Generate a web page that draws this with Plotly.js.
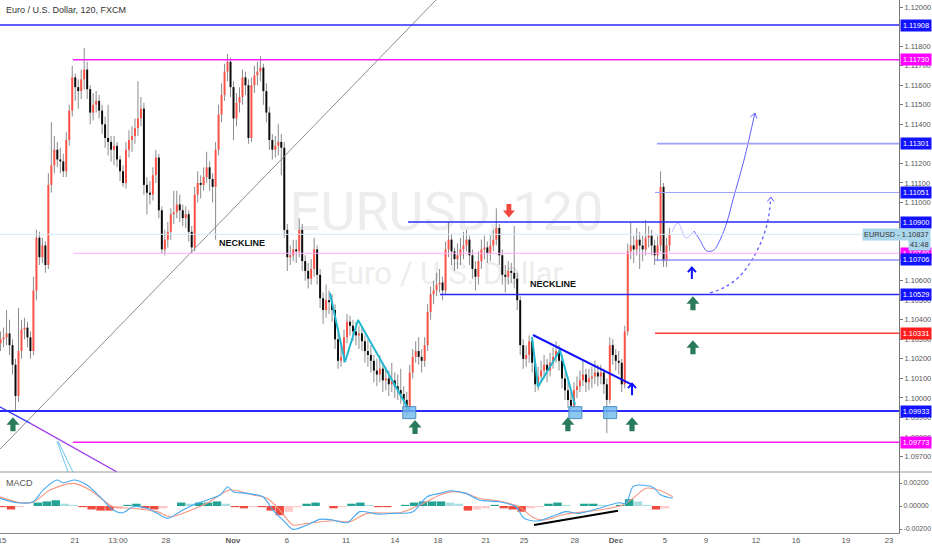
<!DOCTYPE html>
<html><head><meta charset="utf-8">
<script src="https://cdn.plot.ly/plotly-3.0.1.min.js"></script>
<style>html,body{margin:0;padding:0;background:#fff}#chart{width:932px;height:550px}</style>
</head><body><div id="chart"></div>
<script>
// ---------------- DATA (EUR/USD, FXCM) ----------------
const candleOpen = [
1.1028,1.1030,1.1031,1.1033,1.1027,1.1017,1.1001,1.1024,1.1035,1.1036,
1.1031,1.1024,1.1055,1.1082,1.1072,1.1078,1.1068,1.1109,1.1119,1.1127,
1.1122,1.1121,1.1116,1.1132,1.1147,1.1164,1.1159,1.1157,1.1163,1.1168,
1.1158,1.1146,1.1150,1.1152,1.1147,1.1140,1.1133,1.1131,1.1127,1.1129,
1.1122,1.1116,1.1110,1.1127,1.1132,1.1134,1.1138,1.1143,1.1148,1.1109,
1.1105,1.1104,1.1114,1.1123,1.1096,1.1076,1.1081,1.1085,1.1094,1.1095,
1.1099,1.1096,1.1092,1.1094,1.1085,1.1077,1.1104,1.1110,1.1109,1.1113,
1.1118,1.1112,1.1108,1.1127,1.1145,1.1155,1.1167,1.1172,1.1159,1.1143,
1.1151,1.1154,1.1164,1.1160,1.1133,1.1160,1.1165,1.1167,1.1169,1.1157,
1.1146,1.1132,1.1127,1.1129,1.1131,1.1128,1.1086,1.1072,1.1073,1.1076,
1.1075,1.1086,1.1070,1.1065,1.1061,1.1066,1.1076,1.1063,1.1051,1.1045,
1.1050,1.1049,1.1045,1.1030,1.1019,1.1021,1.1031,1.1039,1.1037,1.1034,
1.1032,1.1033,1.1029,1.1024,1.1022,1.1019,1.1014,1.1012,1.1015,1.1009,
1.1010,1.1007,1.1009,1.1006,1.1004,1.1002,1.0999,1.0995,1.1013,1.1021,
1.1024,1.1021,1.1019,1.1027,1.1044,1.1053,1.1055,1.1058,1.1059,1.1055,
1.1076,1.1081,1.1075,1.1071,1.1073,1.1076,1.1078,1.1081,1.1073,1.1066,
1.1062,1.1070,1.1076,1.1077,1.1074,1.1078,1.1081,1.1087,1.1073,1.1063,
1.1062,1.1065,1.1064,1.1061,1.1050,1.1027,1.1020,1.1022,1.1029,1.1018,
1.1007,1.1011,1.1014,1.1017,1.1014,1.1018,1.1021,1.1024,1.1019,1.1010,
1.1004,1.0999,1.0996,1.1004,1.1006,1.1009,1.1012,1.1008,1.1010,1.1011,
1.1013,1.1011,1.1013,1.1007,1.0999,1.1027,1.1022,1.1019,1.1018,1.1007,
1.1034,1.1075,1.1078,1.1076,1.1081,1.1078,1.1076,1.1082,1.1083,1.1078,
1.1073,1.1078,1.1108,1.1070,1.1078];
const candleHigh = [
1.1034,1.1036,1.1045,1.1040,1.1030,1.1020,1.1046,1.1040,1.1041,1.1039,
1.1034,1.1062,1.1086,1.1085,1.1082,1.1080,1.1115,1.1141,1.1134,1.1131,
1.1128,1.1125,1.1136,1.1150,1.1170,1.1166,1.1163,1.1168,1.1179,1.1172,
1.1160,1.1156,1.1157,1.1155,1.1150,1.1144,1.1150,1.1134,1.1134,1.1131,
1.1124,1.1119,1.1131,1.1137,1.1139,1.1143,1.1162,1.1154,1.1151,1.1113,
1.1111,1.1118,1.1127,1.1125,1.1098,1.1086,1.1090,1.1097,1.1106,1.1106,
1.1104,1.1099,1.1098,1.1096,1.1088,1.1108,1.1116,1.1114,1.1118,1.1126,
1.1121,1.1115,1.1131,1.1150,1.1161,1.1171,1.1176,1.1174,1.1162,1.1156,
1.1159,1.1168,1.1167,1.1163,1.1164,1.1170,1.1172,1.1175,1.1171,1.1161,
1.1149,1.1135,1.1134,1.1140,1.1135,1.1131,1.1089,1.1078,1.1081,1.1081,
1.1092,1.1089,1.1073,1.1069,1.1071,1.1082,1.1078,1.1066,1.1054,1.1058,
1.1055,1.1053,1.1048,1.1033,1.1027,1.1035,1.1043,1.1042,1.1040,1.1039,
1.1037,1.1036,1.1032,1.1030,1.1027,1.1022,1.1020,1.1022,1.1018,1.1016,
1.1014,1.1018,1.1013,1.1012,1.1015,1.1006,1.1003,1.1017,1.1025,1.1029,
1.1031,1.1025,1.1031,1.1048,1.1057,1.1060,1.1064,1.1066,1.1062,1.1080,
1.1090,1.1084,1.1077,1.1079,1.1082,1.1085,1.1086,1.1083,1.1076,1.1070,
1.1075,1.1081,1.1083,1.1080,1.1083,1.1086,1.1097,1.1089,1.1076,1.1068,
1.1070,1.1069,1.1088,1.1064,1.1052,1.1030,1.1027,1.1032,1.1031,1.1020,
1.1016,1.1019,1.1022,1.1020,1.1023,1.1026,1.1029,1.1027,1.1022,1.1013,
1.1008,1.1003,1.1008,1.1011,1.1014,1.1019,1.1015,1.1015,1.1016,1.1019,
1.1017,1.1017,1.1015,1.1010,1.1031,1.1030,1.1025,1.1024,1.1020,1.1037,
1.1079,1.1090,1.1083,1.1087,1.1085,1.1083,1.1091,1.1088,1.1086,1.1081,
1.1083,1.1116,1.1110,1.1082,1.1087];
const candleLow = [
1.1024,1.1026,1.1027,1.1022,1.1012,1.0994,1.0998,1.1020,1.1030,1.1026,
1.1020,1.1022,1.1050,1.1068,1.1069,1.1064,1.1066,1.1105,1.1115,1.1118,
1.1115,1.1113,1.1113,1.1129,1.1144,1.1152,1.1148,1.1153,1.1158,1.1153,
1.1140,1.1142,1.1146,1.1143,1.1135,1.1128,1.1124,1.1121,1.1119,1.1118,
1.1111,1.1108,1.1107,1.1123,1.1126,1.1130,1.1134,1.1139,1.1104,1.1094,
1.1099,1.1101,1.1110,1.1092,1.1074,1.1073,1.1077,1.1081,1.1089,1.1092,
1.1090,1.1088,1.1087,1.1080,1.1074,1.1075,1.1100,1.1102,1.1106,1.1110,
1.1106,1.1100,1.1081,1.1124,1.1141,1.1152,1.1162,1.1154,1.1132,1.1139,
1.1146,1.1150,1.1155,1.1130,1.1131,1.1156,1.1160,1.1162,1.1150,1.1141,
1.1127,1.1122,1.1123,1.1124,1.1114,1.1082,1.1065,1.1068,1.1070,1.1069,
1.1072,1.1065,1.1060,1.1056,1.1058,1.1062,1.1058,1.1046,1.1038,1.1041,
1.1043,1.1039,1.1025,1.1015,1.1016,1.1018,1.1028,1.1032,1.1029,1.1027,
1.1025,1.1024,1.1018,1.1016,1.1013,1.1008,1.1006,1.1008,1.1003,1.1004,
1.1001,1.1003,1.1000,1.0999,1.0997,1.0994,1.0991,1.0993,1.1010,1.1018,
1.1017,1.1013,1.1016,1.1024,1.1040,1.1048,1.1052,1.1054,1.1050,1.1053,
1.1072,1.1068,1.1065,1.1066,1.1068,1.1071,1.1075,1.1068,1.1061,1.1055,
1.1058,1.1066,1.1071,1.1069,1.1070,1.1075,1.1078,1.1068,1.1058,1.1054,
1.1058,1.1059,1.1056,1.1045,1.1022,1.1015,1.1016,1.1018,1.1013,1.1003,
1.1004,1.1008,1.1010,1.1008,1.1011,1.1015,1.1018,1.1014,1.1005,1.0999,
1.0995,1.0994,1.0995,1.1000,1.1003,1.1006,1.1003,1.1004,1.1005,1.1007,
1.1006,1.1007,1.1002,1.0982,1.0997,1.1017,1.1014,1.1012,1.1003,1.1005,
1.1032,1.1071,1.1069,1.1073,1.1066,1.1070,1.1073,1.1077,1.1073,1.1068,
1.1070,1.1075,1.1067,1.1067,1.1075];
const candleClose = [
1.1030,1.1031,1.1033,1.1027,1.1017,1.1001,1.1024,1.1035,1.1036,1.1031,
1.1024,1.1055,1.1082,1.1072,1.1078,1.1068,1.1109,1.1119,1.1127,1.1122,
1.1121,1.1116,1.1132,1.1147,1.1164,1.1159,1.1157,1.1163,1.1168,1.1158,
1.1146,1.1150,1.1152,1.1147,1.1140,1.1133,1.1131,1.1127,1.1129,1.1122,
1.1116,1.1110,1.1127,1.1132,1.1134,1.1138,1.1143,1.1148,1.1109,1.1105,
1.1104,1.1114,1.1123,1.1096,1.1076,1.1081,1.1085,1.1094,1.1095,1.1099,
1.1096,1.1092,1.1094,1.1085,1.1077,1.1104,1.1110,1.1109,1.1113,1.1118,
1.1112,1.1108,1.1127,1.1145,1.1155,1.1167,1.1172,1.1159,1.1143,1.1151,
1.1154,1.1164,1.1160,1.1133,1.1160,1.1165,1.1167,1.1169,1.1157,1.1146,
1.1132,1.1127,1.1129,1.1131,1.1128,1.1086,1.1072,1.1073,1.1076,1.1075,
1.1086,1.1070,1.1065,1.1061,1.1066,1.1076,1.1063,1.1051,1.1045,1.1050,
1.1049,1.1045,1.1030,1.1019,1.1021,1.1031,1.1039,1.1037,1.1034,1.1032,
1.1033,1.1029,1.1024,1.1022,1.1019,1.1014,1.1012,1.1015,1.1009,1.1010,
1.1007,1.1009,1.1006,1.1004,1.1002,1.0999,1.0995,1.1013,1.1021,1.1024,
1.1021,1.1019,1.1027,1.1044,1.1053,1.1055,1.1058,1.1059,1.1055,1.1076,
1.1081,1.1075,1.1071,1.1073,1.1076,1.1078,1.1081,1.1073,1.1066,1.1062,
1.1070,1.1076,1.1077,1.1074,1.1078,1.1081,1.1087,1.1073,1.1063,1.1062,
1.1065,1.1064,1.1061,1.1050,1.1027,1.1020,1.1022,1.1029,1.1018,1.1007,
1.1011,1.1014,1.1017,1.1014,1.1018,1.1021,1.1024,1.1019,1.1010,1.1004,
1.0999,1.0996,1.1004,1.1006,1.1009,1.1012,1.1008,1.1010,1.1011,1.1013,
1.1011,1.1013,1.1007,1.0999,1.1027,1.1022,1.1019,1.1018,1.1007,1.1034,
1.1075,1.1078,1.1076,1.1081,1.1078,1.1076,1.1082,1.1083,1.1078,1.1073,
1.1078,1.1108,1.1070,1.1078,1.1084];

// MACD pane (x = trading-day index from Oct 15)
const macdDays = [-0.11,0.84,1.73,2.29,3.07,3.40,4.07,4.74,5.47,6.19,6.75,7.31,8.09,8.65,9.26,9.93,10.66,11.44,12.17,12.61,12.89,13.67,14.56,15.12,15.68,16.24,17.02,17.75,18.47,19.25,19.98,20.93,21.82,22.94,23.72,24.44,25.0,25.89,26.62,27.73,28.68,29.13,29.91,30.75,31.47,32.2,33.31,34.43,34.82,35.21,35.55,36.33,36.77,37.44];
const macdLine = [0.00067,0.00029,0.00037,0.00139,0.00226,0.00203,0.00226,0.00183,0.00081,-0.00035,-0.00058,-0.00006,-0.0002,-0.00064,-0.00107,-0.00049,0.00009,0.00052,0.00096,0.00168,0.00125,0.0011,0.00081,-0.00035,-0.00122,-0.00203,-0.00165,-0.00116,-0.00122,-0.00145,-0.00049,-0.0007,-0.00064,-0.00049,0.00081,0.0011,0.00133,0.0011,0.00052,0.00037,-0.00006,-0.00107,-0.0013,-0.00087,-0.00049,-0.00064,-0.0002,0.00029,0.00023,0.00168,0.00183,0.00163,0.00096,0.00067];
const signalDays = [-0.11,1.0,1.73,2.68,3.96,4.91,6.19,7.31,8.65,9.38,10.32,11.44,12.72,14.0,14.79,15.51,16.24,17.02,18.47,19.42,20.37,22.21,23.33,24.44,25.17,25.89,26.62,27.73,28.85,29.63,30.19,31.47,33.31,34.65,35.21,35.94,36.66,37.44];
const signalLine = [0.0008,0.00029,0.00033,0.00139,0.00197,0.0014,-0.00006,-0.0002,-0.00049,-0.00093,-0.00049,0.00023,0.00139,0.00096,0.00067,-0.00035,-0.00165,-0.00151,-0.00128,-0.00136,-0.00064,-0.00058,0.00009,0.00096,0.00125,0.0011,0.00067,0.00043,-0.00006,-0.00099,-0.00122,-0.0007,-0.00035,0.00009,0.00067,0.00154,0.00139,0.0008];
const histogram = [
-0.0001,-0.0003,-0.0001,0.0000,0.0003,0.0004,0.0005,0.0002,0.0001,-0.0001,
-0.0003,-0.0004,-0.0004,-0.0002,0.0001,0.0002,-0.0002,-0.0003,-0.0002,0.0000,
0.0003,0.0002,0.0003,0.0003,0.0004,0.0002,-0.0001,-0.0002,-0.0001,-0.0001,
-0.0004,-0.0008,-0.0005,-0.0001,0.0002,0.0003,0.0000,-0.0002,-0.0001,0.0002,
0.0003,0.0001,-0.0001,-0.0001,0.0000,0.0001,0.0003,0.0004,0.0004,0.0004,
0.0003,0.0002,-0.0004,-0.0003,-0.0002,0.0001,-0.0002,-0.0003,-0.0005,-0.0002,
-0.0001,0.0002,0.0003,0.0001,0.0000,0.0002,0.0002,0.0001,0.0000,0.0001,
0.0006,0.0004,0.0001,-0.0003,-0.0002];

// price levels drawn on the chart
const levelPrices = [1.11908,1.11730,1.11301,1.11051,1.10900,1.10740,1.10706,1.10529,1.10331,1.09933,1.09773];
const levelLabels = ['1.11908','1.11730','1.11301','1.11051','1.10900','1.10740','1.10706','1.10529','1.10331','1.09933','1.09773'];
const lastPrice = 1.10837;
const lastPriceLabel = 'EURUSD - 1.10837';
const countdownLabel = '41:48';

// price-axis tick labels (those not hidden under level labels)
const yTickPrices = [1.12000,1.11800,1.11700,1.11600,1.11500,1.11400,1.11200,1.11100,1.11000,1.10600,1.10500,1.10400,1.10300,1.10200,1.10100,1.10000,1.09900,1.09800,1.09700];
const yTickLabels = ['1.12000','1.11800','1.11700','1.11600','1.11500','1.11400','1.11200','1.11100','1.11000','1.10600','1.10500','1.10400','1.10300','1.10200','1.10100','1.10000','1.09900','1.09800','1.09700'];
const macdTickValues = [0.002,0,-0.002];
const macdTickLabels = ['0.00200','0.00000','-0.00200'];

// x-axis tick labels
const xTickDays = [0,4.07,6.47,9.15,12.89,15.9,19.2,21.93,24.33,27.0,29.13,31.97,34.26,37.0,39.29,42.08,44.31,47.1,49.5];
const xTickLabels = ['15','21','13:00','28','<b>Nov</b>','6','11','14','18','21','25','28','<b>Dec</b>','5','9','12','16','19','23'];

// ---------------- LAYOUT / STYLE ----------------
const BAR_START = -0.08, BAR_STEP = 1/6;
const XR = [-0.112, 50.06];
const YR = [1.09621, 1.12036];
const Y2R = [-0.002348, 0.002957];
const SPLIT = 0.1144;
const UP = '#ff5046', DOWN = '#0a0a0a', WICK = '#8a8a8a';
const FONT = 'Liberation Sans, Arial, sans-serif';
const AXF = 7.4;

const candleX = candleClose.map((_, i) => BAR_START + i * BAR_STEP);
const histX = histogram.map((_, i) => i * 0.5);

const traces = [];
traces.push({type:'bar', x:candleX, base:candleLow, y:candleHigh.map((h,i)=>h-candleLow[i]),
  width:0.055, marker:{color:WICK, line:{width:0}}, xaxis:'x', yaxis:'y', hoverinfo:'skip'});
traces.push({type:'bar', x:candleX, base:candleOpen, y:candleClose.map((c,i)=>c-candleOpen[i]),
  width:0.11, marker:{color:candleClose.map((c,i)=> c>=candleOpen[i]?UP:DOWN), line:{width:0}},
  xaxis:'x', yaxis:'y', hoverinfo:'skip'});
const histColors = histogram.map((v,i)=>{
  const prev = i>0 ? histogram[i-1] : v;
  if (v >= 0) return v >= prev ? '#22a396' : '#a9dde0';
  return v <= prev ? '#f04a3f' : '#ffc9c9';
});
traces.push({type:'bar', x:histX, y:histogram, width:0.47, marker:{color:histColors, line:{width:0}},
  xaxis:'x', yaxis:'y2', hoverinfo:'skip'});
traces.push({type:'scatter', mode:'lines', x:signalDays, y:signalLine, line:{color:'#f7977f', width:1.1, shape:'spline', smoothing:0.8}, xaxis:'x', yaxis:'y2'});
traces.push({type:'scatter', mode:'lines', x:macdDays, y:macdLine, line:{color:'#46aaf2', width:1.1, shape:'spline', smoothing:0.8}, xaxis:'x', yaxis:'y2'});

function seg(d, p, color, width, extra) {
  traces.push({type:'scatter', mode:'lines', x:d, y:p, line:Object.assign({color:color, width:width}, extra||{}), xaxis:'x', yaxis:'y', hoverinfo:'skip'});
}
seg([-0.11,24.22],[1.09738,1.12036],'#8c8c8c',1);
seg([-0.2,1.56],[1.09958,1.09871],'#3a3aff',1.3);
seg([1.56,6.42],[1.09871,1.09621],'#a040f0',1.3);
seg([3.07,3.68],[1.09779,1.09621],'#6cc4f0',1);
seg([3.125,3.96],[1.09779,1.09621],'#6cc4f0',1);
seg([18.30,19.14,19.87,22.71],[1.10537,1.10184,1.10399,1.09938],'#22b8d0',2);
seg([29.58,29.91,31.14,31.98],[1.10311,1.10056,1.10245,1.09964],'#22b8d0',2);
seg([29.63,35.21],[1.10322,1.10066],'#1010ff',2);
seg([37.39,37.72,38.17,38.62],[1.10849,1.10895,1.10818,1.10854],'#bdbdff',1,{shape:'spline'});
seg([38.62,38.95,39.34,39.73,40.07,40.46,40.79,41.41,42.02],[1.10854,1.10808,1.10752,1.10757,1.10808,1.10900,1.11013,1.11217,1.11458],'#6060ff',1,{shape:'spline'});
seg([39.51,40.35,41.18,41.85,42.41,42.75,42.91],[1.10537,1.10567,1.10624,1.10706,1.10808,1.10910,1.11028],'#6060ff',1.3,{shape:'spline', dash:'dot'});
traces.push({type:'scatter', mode:'lines', x:[29.69,34.38], y:[-0.00165,-0.00041], line:{color:'#000', width:2}, xaxis:'x', yaxis:'y2'});

const levelStyle = [
 {start:-0.2, color:'#2a2aff', width:1.6, bg:'#1212ff'},
 {start:3.96, color:'#ff1aff', width:1.6, bg:'#ff00ff'},
 {start:36.55, color:'#a0a0ff', width:1.6, bg:'#1212ff'},
 {start:36.44, color:'#a0a0ff', width:1.2, bg:'#1212ff'},
 {start:22.66, color:'#2a2aff', width:1.6, bg:'#1212ff'},
 {start:3.96, color:'#ffadff', width:1, bg:'#ff00ff'},
 {start:36.44, color:'#9090ff', width:1.6, bg:'#1212ff'},
 {start:24.44, color:'#2a2aff', width:1.6, bg:'#1212ff'},
 {start:36.44, color:'#ff3b3b', width:1.6, bg:'#ff1e1e'},
 {start:-0.2, color:'#2a2aff', width:2, bg:'#1212ff'},
 {start:3.96, color:'#ff1aff', width:1.6, bg:'#ff00ff'}
];

const shapes = [];
const annotations = [];
const WM = 'Liberation Sans Narrow, Roboto, Liberation Sans, sans-serif';
shapes.push({type:'rect', xref:'x', yref:'y', x0:15, x1:34.6, y0:1.1085, y1:1.1110, layer:'below', line:{width:0}, fillcolor:'rgba(0,0,0,0)',
  label:{text:'EURUSD, 120', textposition:'middle center', font:{family:WM, size:54, color:'#ededed'}}});
shapes.push({type:'rect', xref:'x', yref:'y', x0:15, x1:34.6, y0:1.1058, y1:1.1071, layer:'below', line:{width:0}, fillcolor:'rgba(0,0,0,0)',
  label:{text:'Euro / U.S. Dollar', textposition:'middle center', font:{family:WM, size:31, color:'#ededed'}}});
shapes.push({type:'line', xref:'x', yref:'y', x0:XR[0], x1:XR[1], y0:lastPrice, y1:lastPrice, line:{color:'#d3eaf7', width:1}});
levelPrices.forEach((p,i)=>{
  const s = levelStyle[i];
  shapes.push({type:'line', xref:'x', yref:'y', x0:s.start, x1:XR[1], y0:p, y1:p, line:{color:s.color, width:s.width}});
  annotations.push({xref:'paper', yref:'y', x:1, y:p, xanchor:'left', xshift:1, text:levelLabels[i], showarrow:false,
    bgcolor:s.bg, font:{family:FONT, size:AXF, color:'#fff'}, borderpad:1, width:28});
});
annotations.push({xref:'paper', yref:'y', x:1, y:lastPrice, xanchor:'right', xshift:32, text:lastPriceLabel, showarrow:false,
  bgcolor:'#aad6ec', font:{family:FONT, size:AXF, color:'#333'}, borderpad:1});
annotations.push({xref:'paper', yref:'y', x:1, y:1.10787, xanchor:'right', xshift:32, text:countdownLabel, showarrow:false,
  bgcolor:'#aad6ec', font:{family:FONT, size:AXF, color:'#333'}, borderpad:1});

shapes.push({type:'line', xref:'paper', yref:'paper', x0:0, x1:1.04, y0:SPLIT, y1:SPLIT, line:{color:'#9a9a9a', width:1.2}});

[[22.73,1.09925],[32.0,1.09925],[33.94,1.09925]].forEach(a=>{
  shapes.push({type:'rect', xref:'x', yref:'y', xsizemode:'pixel', ysizemode:'pixel', xanchor:a[0], yanchor:a[1],
    x0:-6.5, x1:6.5, y0:-6, y1:6, fillcolor:'rgba(110,185,235,0.8)', line:{color:'#4f8fc4', width:1}});
});
const greenUp = 'M -2.6 -7 L 2.6 -7 L 2.6 -0.5 L 6.5 -0.5 L 0 7 L -6.5 -0.5 L -2.6 -0.5 Z';
[[0.61,1.09866],[23.05,1.09851],[31.58,1.09866],[35.16,1.09866],[38.56,1.10485],[38.56,1.10260]].forEach(a=>{
  shapes.push({type:'path', xref:'x', yref:'y', xsizemode:'pixel', ysizemode:'pixel', xanchor:a[0], yanchor:a[1], path:greenUp,
    fillcolor:'#2a7a5c', line:{width:0}});
});
shapes.push({type:'path', xref:'x', yref:'y', xsizemode:'pixel', ysizemode:'pixel', xanchor:28.29, yanchor:1.10956,
  path:'M -2.4 7 L 2.4 7 L 2.4 0.5 L 6 0.5 L 0 -6.5 L -6 0.5 L -2.4 0.5 Z', fillcolor:'#f0463c', line:{width:0}});
[[38.50,1.10639],[35.16,1.10045]].forEach(a=>{
  shapes.push({type:'path', xref:'x', yref:'y', xsizemode:'pixel', ysizemode:'pixel', xanchor:a[0], yanchor:a[1],
    path:'M 0 -6 L 0 5 M -4 1 L 0 5.5 L 4 1', line:{color:'#1010ff', width:2}});
});
shapes.push({type:'path', xref:'x', yref:'y', xsizemode:'pixel', ysizemode:'pixel', xanchor:42.02, yanchor:1.11458,
  path:'M -4.5 -4 L 0 0 L 2 -5.5', line:{color:'#6060ff', width:1}});
shapes.push({type:'path', xref:'x', yref:'y', xsizemode:'pixel', ysizemode:'pixel', xanchor:42.91, yanchor:1.11028,
  path:'M -3.5 -4.5 L 0 0 L 3 -4.5', line:{color:'#6060ff', width:1}});

annotations.push({xref:'x', yref:'y', x:13.39, y:1.10792, text:'<b>NECKLINE</b>', showarrow:false, font:{family:FONT, size:9, color:'#111'}});
annotations.push({xref:'x', yref:'y', x:30.75, y:1.10583, text:'<b>NECKLINE</b>', showarrow:false, font:{family:FONT, size:9, color:'#111'}});
annotations.push({xref:'paper', yref:'paper', x:0.004, y:0.981, xanchor:'left', yanchor:'middle', text:'Euro / U.S. Dollar, 120, FXCM', showarrow:false, font:{family:FONT, size:9, color:'#333'}});
annotations.push({xref:'paper', yref:'paper', x:0.004, y:0.094, xanchor:'left', yanchor:'middle', text:'MACD', showarrow:false, font:{family:FONT, size:9, color:'#555'}});

const layout = {
  width:932, height:550, margin:{l:0, r:33, t:0, b:17},
  paper_bgcolor:'#fff', plot_bgcolor:'#fff', showlegend:false, barmode:'overlay', hovermode:false,
  font:{family:FONT, size:8, color:'#555'},
  xaxis:{range:XR, anchor:'y2', showgrid:false, zeroline:false, showline:true, linecolor:'#8a8a8a', linewidth:1,
    tickmode:'array', tickvals:xTickDays, ticktext:xTickLabels, ticks:'', tickfont:{size:7.8, color:'#555'}, ticklabeloverflow:'allow', fixedrange:true},
  yaxis:{domain:[SPLIT,1], range:YR, side:'right', anchor:'x', showgrid:false, zeroline:false, showline:true, linecolor:'#777', linewidth:1,
    tickmode:'array', tickvals:yTickPrices, ticktext:yTickLabels, ticks:'outside', ticklen:3, tickcolor:'#777', tickfont:{size:AXF, color:'#555'}, ticklabeloverflow:'allow', fixedrange:true},
  yaxis2:{domain:[0,SPLIT], range:Y2R, side:'right', anchor:'x', showgrid:false, zeroline:false, showline:true, linecolor:'#777', linewidth:1,
    tickmode:'array', tickvals:macdTickValues, ticktext:macdTickLabels, ticks:'outside', ticklen:2, tickcolor:'#777', tickfont:{size:7, color:'#555'}, ticklabeloverflow:'allow', fixedrange:true},
  shapes:shapes, annotations:annotations
};
Plotly.newPlot('chart', traces, layout, {staticPlot:true, displayModeBar:false});
</script></body></html>
